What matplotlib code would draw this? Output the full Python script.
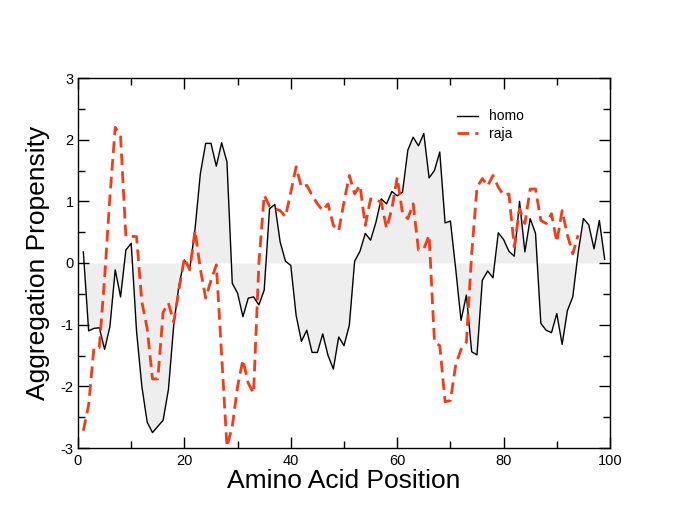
import numpy as np
import matplotlib
matplotlib.use("Agg")
import matplotlib.pyplot as plt
from matplotlib.ticker import MultipleLocator

plt.rcParams['font.family'] = ['Liberation Sans', 'DejaVu Sans']
plt.rcParams['axes.unicode_minus'] = False

homo_pos = list(range(1, 100))
homo = [0.18, -1.1, -1.06, -1.05, -1.4, -1.03, -0.11, -0.55, 0.21, 0.32,
        -1.1, -2.0, -2.58, -2.75, -2.65, -2.55, -2.05, -1.0, -0.35, 0.05,
        -0.1, 0.55, 1.45, 1.94, 1.94, 1.57, 1.95, 1.64, -0.33, -0.49,
        -0.87, -0.57, -0.55, -0.68, -0.44, 0.88, 0.95, 0.34, 0.03, -0.04,
        -0.85, -1.27, -1.09, -1.45, -1.45, -1.15, -1.5, -1.72, -1.2, -1.34,
        -1.01, 0.03, 0.19, 0.48, 0.37, 0.66, 1.04, 0.96, 1.16, 1.09,
        1.15, 1.83, 2.04, 1.9, 2.1, 1.38, 1.5, 1.8, 0.65, 0.68,
        -0.1, -0.93, -0.52, -1.44, -1.49, -0.28, -0.13, -0.24, 0.49, 0.38,
        0.19, 0.11, 1.0, 0.18, 0.72, 0.48, -0.98, -1.09, -1.13, -0.82,
        -1.32, -0.77, -0.55, 0.16, 0.72, 0.62, 0.23, 0.69, 0.06]

raja_pos = list(range(1, 95))
raja = [-2.72, -2.3, -1.37, -1.37, -0.24, 1.08, 2.2, 2.05, 0.43, 0.43,
        0.43, -0.63, -1.06, -1.88, -1.88, -0.8, -0.65, -0.96, -0.42, 0.08,
        -0.11, 0.53, -0.1, -0.57, -0.28, -0.03, -1.5, -2.98, -2.65, -2.0,
        -1.57, -1.95, -2.11, 0.0, 1.1, 0.92, 0.88, 0.85, 0.75, 1.15,
        1.56, 1.23, 1.26, 1.1, 0.96, 0.85, 0.96, 0.61, 0.52, 0.99,
        1.42, 1.12, 1.26, 0.61, 1.04, 1.02, 0.99, 0.56, 0.88, 1.39,
        0.8, 0.72, 0.96, 0.21, 0.23, 0.45, -1.28, -1.34, -2.25, -2.23,
        -1.65, -1.4, -1.28, 0.15, 1.23, 1.37, 1.25, 1.42, 1.23, 1.1,
        1.12, 0.26, 0.88, 0.64, 1.2, 1.2, 0.69, 0.64, 0.8, 0.34,
        0.85, 0.45, 0.15, 0.45]

fig = plt.figure(figsize=(6.85, 5.29), dpi=100)
ax = fig.add_axes([78/685, 1 - 448/529, 532/685, 370/529])

ax.fill_between(homo_pos, homo, 0, color='#eeeeee', linewidth=0)
ax.plot(homo_pos, homo, color='black', linewidth=1.0, label='homo')
ax.plot(raja_pos, raja, color='#f83a16', linewidth=2.0, dashes=(4.2, 2.2), label='raja')

ax.set_xlim(0, 100)
ax.set_ylim(-3, 3)
ax.xaxis.set_major_locator(MultipleLocator(20))
ax.xaxis.set_minor_locator(MultipleLocator(10))
ax.yaxis.set_major_locator(MultipleLocator(1))
ax.yaxis.set_minor_locator(MultipleLocator(0.5))
ax.tick_params(which='both', direction='in', top=True, right=True, labelsize=10.5)
ax.tick_params(axis='x', pad=4)
ax.tick_params(axis='y', pad=3)
ax.tick_params(which='major', length=8, width=1)
ax.tick_params(which='minor', length=5, width=1)
for s in ax.spines.values():
    s.set_linewidth(1.0)

ax.set_xlabel('Amino Acid Position', fontsize=19, labelpad=1)
ax.set_ylabel('Aggregation Propensity', fontsize=19, labelpad=8)

ax.legend(loc='upper left', bbox_to_anchor=(0.712, 0.915), frameon=False,
          fontsize=10, handlelength=1.5, handletextpad=0.8, labelspacing=0.25,
          borderpad=0, borderaxespad=0)

fig.savefig('out.png', dpi=100)
